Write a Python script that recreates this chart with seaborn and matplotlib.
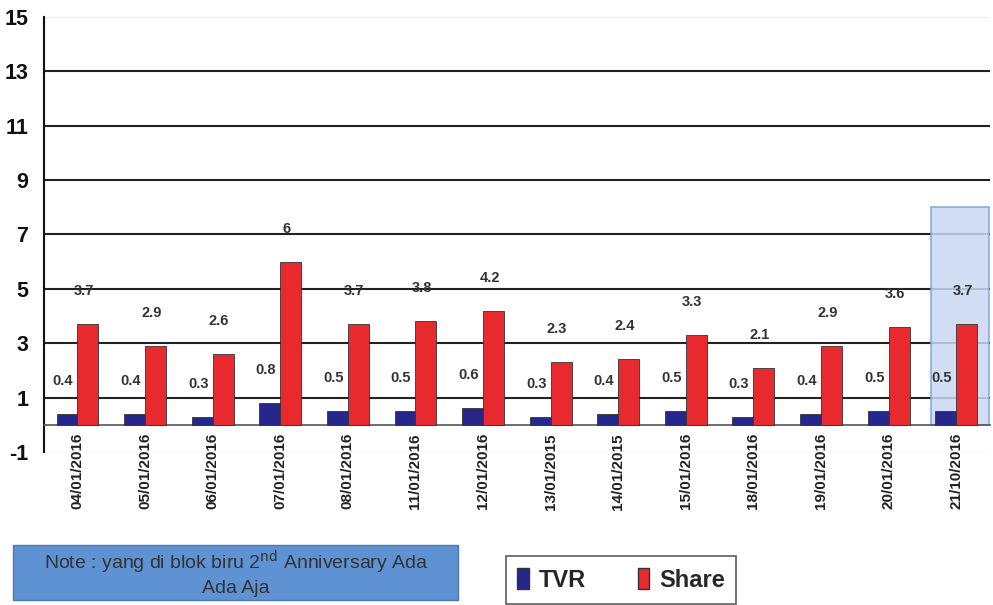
import matplotlib
matplotlib.use("Agg")
import matplotlib.pyplot as plt
import seaborn as sns
import pandas as pd
from matplotlib.patches import Rectangle, Patch

dates = ["04/01/2016", "05/01/2016", "06/01/2016", "07/01/2016", "08/01/2016",
         "11/01/2016", "12/01/2016", "13/01/2015", "14/01/2015", "15/01/2016",
         "18/01/2016", "19/01/2016", "20/01/2016", "21/10/2016"]
tvr = [0.4, 0.4, 0.3, 0.8, 0.5, 0.5, 0.6, 0.3, 0.4, 0.5, 0.3, 0.4, 0.5, 0.5]
tvr_labels = ["0.4", "0.4", "0.3", "0.8", "0.5", "0.5", "0.6", "0.3", "0.4", "0.5", "0.3", "0.4", "0.5", "0.5"]
share = [3.7, 2.9, 2.6, 6.0, 3.7, 3.8, 4.2, 2.3, 2.4, 3.3, 2.1, 2.9, 3.6, 3.7]
share_labels = ["3.7", "2.9", "2.6", "6", "3.7", "3.8", "4.2", "2.3", "2.4", "3.3", "2.1", "2.9", "3.6", "3.7"]
yticks = [-1, 1, 3, 5, 7, 9, 11, 13, 15]
note_text = "Note : yang di blok biru 2$^{\\mathrm{nd}}$ Anniversary Ada\nAda Aja"

df = pd.DataFrame({
    "date": dates * 2,
    "value": tvr + share,
    "series": ["TVR"] * len(dates) + ["Share"] * len(dates),
})

sns.set_style("white")
plt.rcParams["font.family"] = ["Liberation Sans", "DejaVu Sans"]

NAVY = "#26278a"
RED = "#e8292d"

fig = plt.figure(figsize=(9.93, 6.05), dpi=100)
ax = fig.add_axes([0.044, 0.253, 0.953, 0.719])

# highlight block behind last group
ax.add_patch(Rectangle((12.63, 0), 0.85, 8, facecolor="#c9d8f2", edgecolor="#7d9fd8",
                       lw=1.2, alpha=0.85, zorder=1.5))

sns.barplot(data=df, x="date", y="value", hue="series", order=dates,
            hue_order=["TVR", "Share"], palette=[NAVY, RED], width=0.62,
            edgecolor="#333333", linewidth=0.6, saturation=1, ax=ax, zorder=3,
            legend=False)

ax.set_ylim(-1, 15)
ax.set_xlim(-0.5, len(dates) - 0.5)
ax.set_yticks(yticks)
ax.set_yticklabels([str(t) for t in yticks], fontsize=15.5, fontweight="bold", color="#111111")
ax.set_xlabel("")
ax.set_ylabel("")

for t in [1, 3, 5, 7, 9, 11, 13]:
    ax.axhline(t, color="#222222", lw=1.5, zorder=1)
ax.axhline(-1, color="#dddddd", lw=1, zorder=1)
ax.axhline(15, color="#eeeeee", lw=1, zorder=1)

for s in ["top", "right"]:
    ax.spines[s].set_visible(False)
ax.spines["left"].set_color("#111111")
ax.spines["left"].set_linewidth(1.5)
ax.spines["bottom"].set_position(("data", 0))
ax.spines["bottom"].set_color("#555555")
ax.spines["bottom"].set_linewidth(1.2)

ax.set_xticks(range(len(dates)))
ax.set_xticklabels(dates, rotation=90, fontsize=11, fontweight="bold", color="#222222")
ax.set_xticks([i + 0.5 for i in range(len(dates))], minor=True)
ax.tick_params(axis="x", which="major", length=0, pad=6)
ax.tick_params(axis="x", which="minor", length=5, direction="out", color="#555555")
ax.tick_params(axis="y", length=5, direction="out", color="#111111", pad=6)

# value labels above bars
conts = ax.containers
for cont, labels in zip(conts, [tvr_labels, share_labels]):
    for bar, lab in zip(cont, labels):
        x = bar.get_x() + bar.get_width() / 2
        y = bar.get_height()
        ax.annotate(lab, (x, y), xytext=(-4, 33), textcoords="offset pixels",
                    ha="center", va="center", fontsize=10.5, fontweight="bold",
                    color="#333333", zorder=5)

# note box
fig.patches.append(Rectangle((13 / 993, 1 - 600 / 605), 445 / 993, 55 / 605,
                             transform=fig.transFigure, facecolor="#5f92d2",
                             edgecolor="#4a78b5", lw=1, zorder=0))
fig.text(236 / 993, 1 - 573 / 605, note_text, ha="center", va="center",
         fontsize=14, color="#333333",
         family=["Liberation Sans Narrow", "Liberation Sans", "DejaVu Sans"],
         linespacing=1.25)

# legend
handles = [Patch(facecolor=NAVY, edgecolor="#333333", label="TVR"),
           Patch(facecolor=RED, edgecolor="#333333", label="Share")]
leg = fig.legend(handles=handles, loc="center", bbox_to_anchor=(621 / 993, 1 - 580 / 605),
                 ncol=2, frameon=True, fancybox=False, edgecolor="#333333",
                 prop={"weight": "bold", "size": 17, "family": ["Liberation Sans Narrow", "Liberation Sans"]},
                 handlelength=0.5, handleheight=1.0, columnspacing=2.2, handletextpad=0.4,
                 borderpad=0.5)
leg.get_frame().set_linewidth(1.2)

fig.savefig("out.png", dpi=100, facecolor="white")
